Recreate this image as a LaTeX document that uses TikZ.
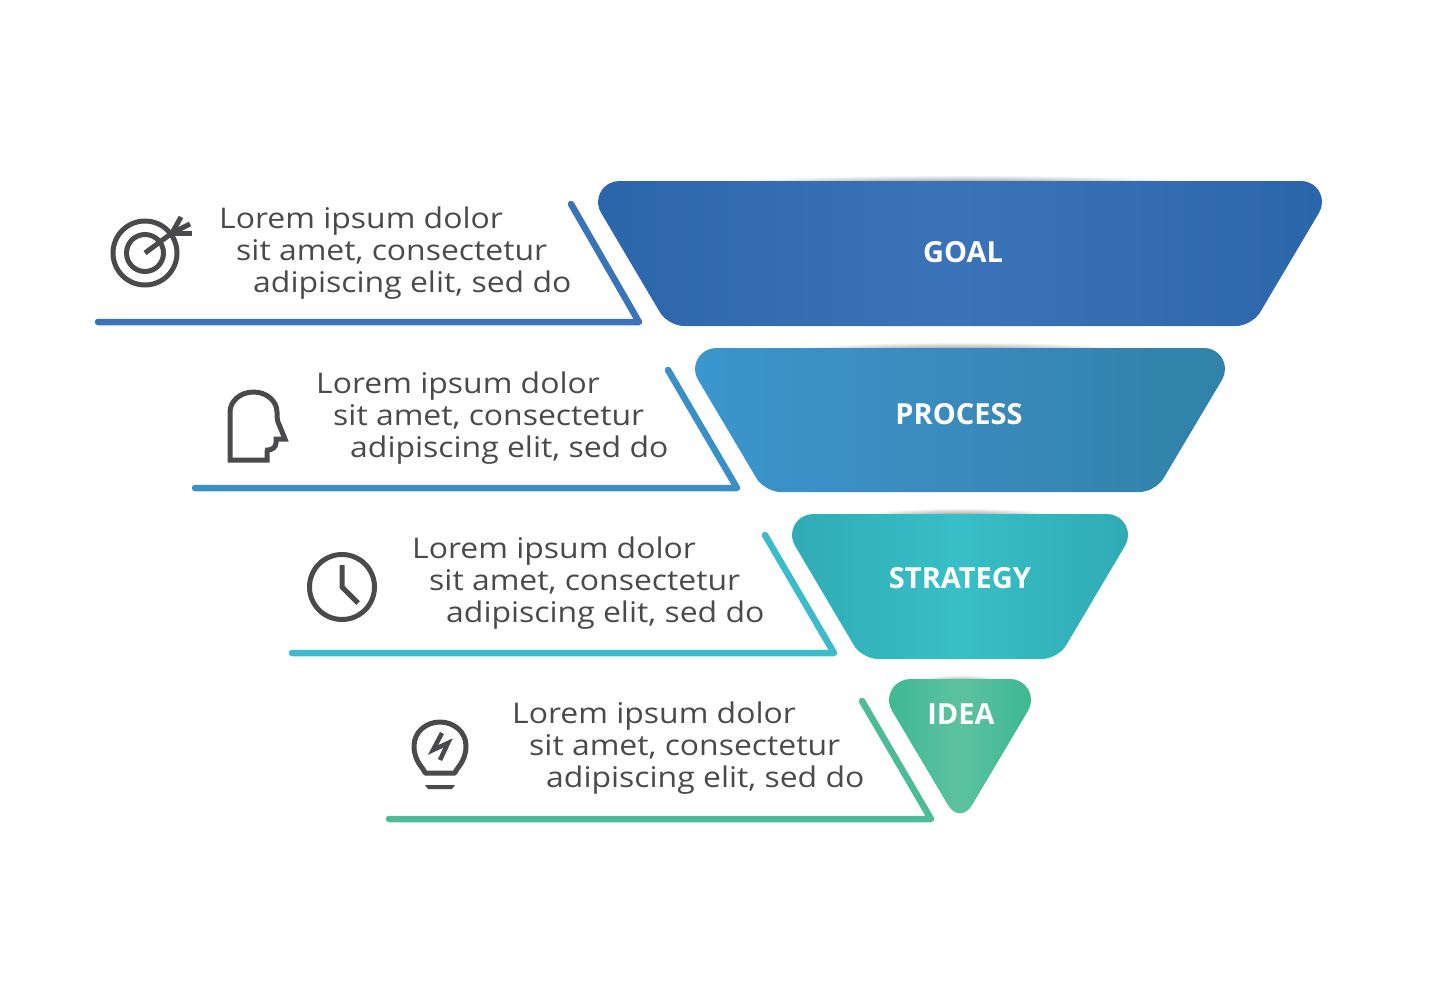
\documentclass[tikz,border=0pt]{standalone}
\usepackage{fontspec}
\setmainfont{Open Sans}
\newfontfamily\loremfont[FakeStretch=1.12]{Open Sans}
\definecolor{inkgray}{HTML}{4A4A4C}
\definecolor{goalline}{HTML}{3A74B8}
\definecolor{processline}{HTML}{3A90C5}
\definecolor{strategyline}{HTML}{3CBCC8}
\definecolor{idealine}{HTML}{4DBB98}
\definecolor{goalbase}{HTML}{2C66AA}
\definecolor{goalmid}{HTML}{3B73B8}
\definecolor{processleft}{HTML}{3A96CD}
\definecolor{processmid}{HTML}{3A8ABC}
\definecolor{processright}{HTML}{2F82A8}
\definecolor{strategybase}{HTML}{30ABB5}
\definecolor{strategymid}{HTML}{38BFC7}
\definecolor{ideabase}{HTML}{3DB991}
\definecolor{ideamid}{HTML}{5DC1A0}
\newcommand{\loremlines}{Lorem ipsum dolor\\\hspace*{17pt}sit amet, consectetur\\\hspace*{34pt}adipiscing elit, sed do}
\tikzset{
  bartitle/.style={text=white, font=\fontsize{29}{32}\selectfont\bfseries, inner sep=0pt},
  lorem/.style={text=inkgray, font=\loremfont\fontsize{28.5}{32}\selectfont, align=left, anchor=west, inner sep=0pt},
  leader/.style={line width=6.5pt, line cap=round, line join=round},
  icon/.style={draw=inkgray, line width=5pt},
  goalbar/.style={left color=goalbase, right color=goalbase, middle color=goalmid},
  processbar/.style={left color=processleft, right color=processright, middle color=processmid},
  strategybar/.style={left color=strategybase, right color=strategybase, middle color=strategymid},
  ideabar/.style={left color=ideabase, right color=ideabase, middle color=ideamid},
  barshadow/.style={inner color=black!60, outer color=white},
}
\begin{document}
\begin{tikzpicture}[x=1pt,y=-1pt]
  \useasboundingbox (0,0) rectangle (1435,980);
  % shadows over the bars
  \shade[barshadow] (960,186) ellipse (270 and 11);
  \shade[barshadow] (960,353) ellipse (190 and 11);
  \shade[barshadow] (960,519) ellipse (110 and 11);
  \shade[barshadow] (960,684) ellipse (50 and 9);
  % funnel
  \shade[goalbar] (619,181) -- (1301,181) arc[start angle=270, end angle=390.6, radius=21]
    [rounded corners=16pt] -- (1252,326) -- (668,326) [sharp corners] -- (601,212.7)
    arc[start angle=149.4, end angle=270, radius=21] -- cycle;
  \shade[processbar] (716,348) -- (1204,348) arc[start angle=270, end angle=390.6, radius=21]
    [rounded corners=16pt] -- (1155.4,492) -- (764.6,492) [sharp corners] -- (698,379.7)
    arc[start angle=149.4, end angle=270, radius=21] -- cycle;
  \shade[strategybar] (813,514) -- (1107,514) arc[start angle=270, end angle=390.6, radius=21]
    [rounded corners=16pt] -- (1058,659) -- (862,659) [sharp corners] -- (795,545.7)
    arc[start angle=149.4, end angle=270, radius=21] -- cycle;
  \shade[ideabar] (910,679) -- (1010,679) arc[start angle=270, end angle=390.6, radius=21]
    [rounded corners=24pt] -- (960,825.4) -- (926,768) [sharp corners] -- (892,710.7)
    arc[start angle=149.4, end angle=270, radius=21] -- cycle;
  \node[bartitle] (goal) at (963,252) {GOAL};
  \node[bartitle] (process) at (959,414) {PROCESS};
  \node[bartitle] (strategy) at (960,578) {STRATEGY};
  \node[bartitle] (idea) at (961,714) {IDEA};
  % texts
  \node[lorem] (goaltext) at (219,253) {\loremlines};
  \node[lorem] (processtext) at (316,418) {\loremlines};
  \node[lorem] (strategytext) at (412,583) {\loremlines};
  \node[lorem] (ideatext) at (512,748) {\loremlines};
  % leaders
  \coordinate (goalstart) at (98,322);
  \coordinate (goalcorner) at (639,322);
  \coordinate (goalend) at (571,204);
  \coordinate (processstart) at (195,488);
  \coordinate (processcorner) at (737,488);
  \coordinate (processend) at (668,370);
  \coordinate (strategystart) at (292,653);
  \coordinate (strategycorner) at (834,653);
  \coordinate (strategyend) at (765,535);
  \coordinate (ideastart) at (389,819);
  \coordinate (ideacorner) at (931,819);
  \coordinate (ideaend) at (862,701);
  \draw[leader, goalline] (goalstart) -- (goalcorner) -- (goalend);
  \draw[leader, processline] (processstart) -- (processcorner) -- (processend);
  \draw[leader, strategyline] (strategystart) -- (strategycorner) -- (strategyend);
  \draw[leader, idealine] (ideastart) -- (ideacorner) -- (ideaend);
  % target
  \draw[icon] (145,253) circle (32);
  \draw[icon] (145,253) circle (18.5);
  \draw[icon] (145,253) -- (172,233) -- (181,217);
  \draw[icon] (172,233) -- (190,224);
  \draw[icon] (172,233) -- (192,233);
  % head
  \draw[icon, line join=miter] (230,460) -- (230,412) arc[start angle=180, end angle=360, x radius=23.5, y radius=20]
    .. controls (277,416) and (277,418) .. (278,422) -- (285,439) -- (276,439) -- (276,443)
    .. controls (276,447) and (272,450) .. (268,450) -- (265,450) -- (267,450) -- (267,460) -- cycle;
  % clock
  \draw[icon] (342,587) circle (32.5);
  \draw[icon] (342,565) -- (342,587) -- (358,603);
  % bulb
  \draw[icon, line join=round] (425,773) -- (455,773) .. controls (456,768) and (466,762) .. (466,746)
    .. controls (466,732) and (454,722) .. (440,722) .. controls (426,722) and (414,732) .. (414,746)
    .. controls (414,762) and (424,768) .. (425,773) -- cycle;
  \fill[inkgray] (425,785) -- (455,785) -- (452,789) -- (428,789) -- cycle;
  \draw[icon, line width=4.5pt] (442,733) -- (433,750) -- (448,743) -- (440,760);
\end{tikzpicture}
\end{document}
